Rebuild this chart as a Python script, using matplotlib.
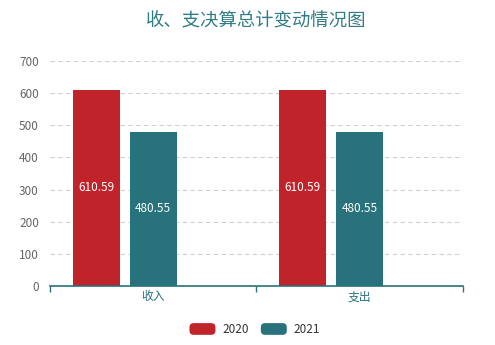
import matplotlib.pyplot as plt
from matplotlib.patches import FancyBboxPatch, Patch
from matplotlib.legend_handler import HandlerPatch

plt.rcParams['font.family'] = ['Noto Sans CJK SC', 'DejaVu Sans']

categories = ['收入', '支出']
years = ['2020', '2021']
values_2020 = [610.59, 610.59]
values_2021 = [480.55, 480.55]
y_ticks = [0, 100, 200, 300, 400, 500, 600, 700]

RED = '#c1232b'
TEAL = '#27727b'

fig = plt.figure(figsize=(4.95, 3.45), dpi=100)
ax = fig.add_axes([0.101, 0.171, 0.834, 0.652])

x = list(range(len(categories)))
width = 0.228
offsets = [-0.275, 0.0]
series = [values_2020, values_2021]
colors = [RED, TEAL]

for vals, off, col, name in zip(series, offsets, colors, years):
    bars = ax.bar([i + off for i in x], vals, width=width, color=col, label=name, zorder=3)
    for b, v in zip(bars, vals):
        ax.text(b.get_x() + b.get_width() / 2, v / 2, f'{v:.2f}',
                ha='center', va='center', color='white', fontsize=8.5, zorder=4)

ax.set_xlim(-0.5, 1.5)
ax.set_ylim(0, 700)
ax.set_yticks(y_ticks)
ax.set_yticklabels([str(t) for t in y_ticks], color='#666666', fontsize=8.5)
ax.yaxis.grid(True, linestyle=(0, (4, 3)), color='#d0d0d0', linewidth=0.8, zorder=0)
ax.tick_params(axis='y', length=0, pad=8)

# category ticks sit on the boundaries, labels in the middle
ax.set_xticks([-0.5, 0.5, 1.5])
ax.set_xticklabels([])
ax.set_xticks(x, minor=True)
ax.set_xticklabels(categories, minor=True, color=TEAL, fontsize=8.5)
ax.tick_params(axis='x', which='major', length=4, color=TEAL, width=1)
ax.tick_params(axis='x', which='minor', length=0, pad=3)

for s in ['top', 'right', 'left']:
    ax.spines[s].set_visible(False)
ax.spines['bottom'].set_color(TEAL)
ax.spines['bottom'].set_linewidth(1.2)
ax.spines['bottom'].set_zorder(5)

fig.text(0.517, 0.937, '收、支决算总计变动情况图', ha='center', va='center',
         color='#2f7c84', fontsize=13.2)


class RoundBox(HandlerPatch):
    def create_artists(self, legend, orig_handle, xdescent, ydescent,
                       width, height, fontsize, trans):
        p = FancyBboxPatch((-xdescent, -ydescent), width, height,
                           boxstyle='round,pad=0,rounding_size=3',
                           facecolor=orig_handle.get_facecolor(),
                           edgecolor='none', transform=trans)
        return [p]


handles = [Patch(facecolor=c, label=y) for c, y in zip(colors, years)]
leg = fig.legend(handles=handles, loc='center', bbox_to_anchor=(0.515, 0.045),
                 ncol=2, frameon=False, fontsize=8.5, handlelength=2.2,
                 handleheight=1.15, handletextpad=0.6, columnspacing=1.0,
                 handler_map={Patch: RoundBox()})
for t in leg.get_texts():
    t.set_color('#333333')

fig.savefig('out.png', dpi=100)
